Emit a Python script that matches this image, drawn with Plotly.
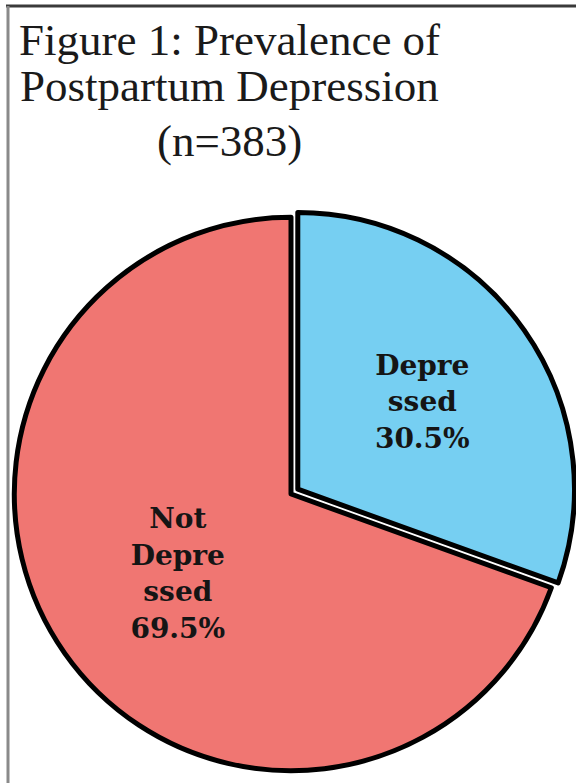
import plotly.graph_objects as go

categories = ["Depressed", "Not Depressed"]
display_labels = ["Depre<br>ssed", "Not<br>Depre<br>ssed"]
percent_values = [30.5, 69.5]
slice_colors = ["#76CFF2", "#F07672"]
slice_pull = [0.03, 0.0]

title_lines = ["Figure 1: Prevalence of", "Postpartum Depression", "(n=383)"]

W, H = 576, 783

fig = go.Figure()
fig.add_trace(go.Pie(
    labels=categories,
    values=percent_values,
    text=display_labels,
    texttemplate="%{text}<br>%{value:.1f}%",
    textposition="inside",
    insidetextorientation="horizontal",
    sort=False,
    direction="clockwise",
    rotation=0,
    pull=slice_pull,
    marker=dict(colors=slice_colors, line=dict(color="#000000", width=5)),
    textfont=dict(family="DejaVu Serif", size=28, color="#151515", weight="bold"),
    showlegend=False,
    hoverinfo="label+percent",
    domain=dict(x=[6 / W, 1.0], y=[1 - 780 / H, 1 - 208 / H]),
))

title_y = [40, 86, 141]
annotations = []
for line, yp in zip(title_lines, title_y):
    annotations.append(dict(
        text=line, x=229 / W, y=1 - yp / H, xref="paper", yref="paper",
        xanchor="center", yanchor="middle", showarrow=False,
        font=dict(family="Liberation Serif", size=45, color="#1a1a1a"),
    ))

shapes = [
    dict(type="line", xref="paper", yref="paper", x0=6 / W, x1=1, y0=1 - 6 / H, y1=1 - 6 / H,
         line=dict(color="#3a3a3a", width=3)),
    dict(type="line", xref="paper", yref="paper", x0=8 / W, x1=8 / W, y0=0, y1=1 - 6 / H,
         line=dict(color="#8a8a8a", width=3)),
]

fig.update_layout(
    width=W, height=H,
    margin=dict(l=0, r=0, t=0, b=0),
    paper_bgcolor="white", plot_bgcolor="white",
    annotations=annotations, shapes=shapes,
)

fig.write_html("out.html")
